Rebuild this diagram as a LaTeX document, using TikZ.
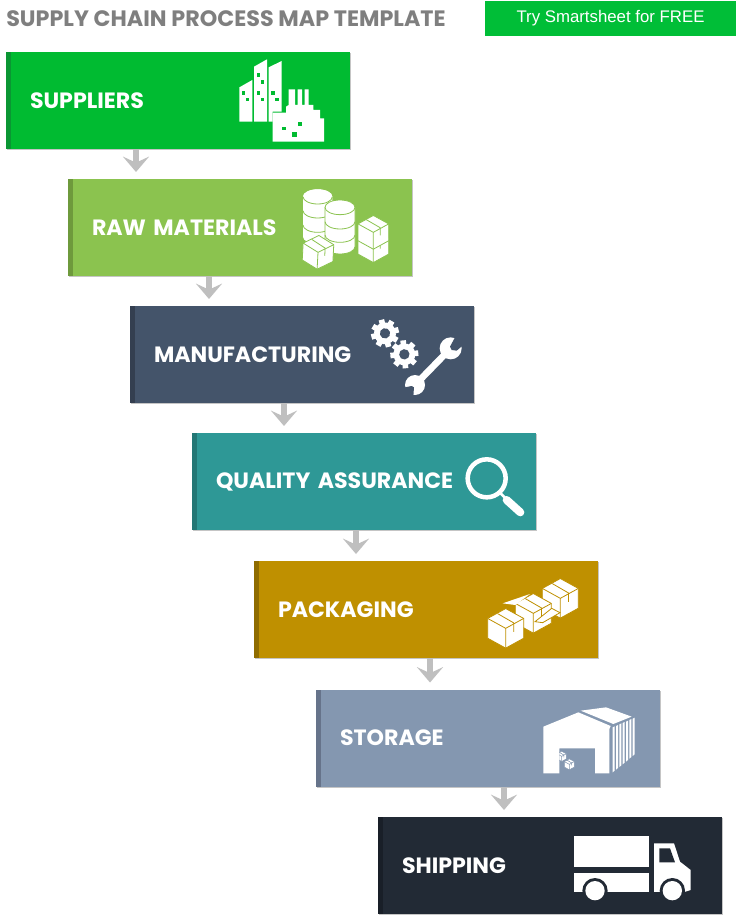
\documentclass[tikz,border=0pt]{standalone}
\usepackage{fontspec}
\setmainfont{Poppins}
\newfontfamily\buttonfont{Liberation Sans}
\usetikzlibrary{calc, positioning, arrows.meta, shadows}
\definecolor{titlegray}{HTML}{7F7F7F}
\definecolor{buttongreen}{HTML}{00BE37}
\definecolor{suppliersgreen}{HTML}{00BB31}
\definecolor{suppliersdark}{HTML}{0A9633}
\definecolor{rawgreen}{HTML}{8BC34F}
\definecolor{rawdark}{HTML}{6E9A3C}
\definecolor{manublue}{HTML}{44546A}
\definecolor{manudark}{HTML}{343F50}
\definecolor{qateal}{HTML}{2E9896}
\definecolor{qadark}{HTML}{237775}
\definecolor{packgold}{HTML}{BF9000}
\definecolor{packdark}{HTML}{8F6C00}
\definecolor{storeblue}{HTML}{8497B0}
\definecolor{storedark}{HTML}{66738A}
\definecolor{shipnavy}{HTML}{222A35}
\definecolor{shipdark}{HTML}{191F28}
\definecolor{arrowgray}{HTML}{BFBFBF}
\tikzset{
  procbox/.style={fill=#1, minimum width=258pt, minimum height=72.75pt, inner sep=0pt, outer sep=0pt,
    text width=222pt, align=left, text=white, font=\bfseries\fontsize{16.6}{19}\selectfont,
    drop shadow={shadow xshift=.7pt, shadow yshift=-.9pt, fill=black!50, opacity=.45}},
  nextbox/.style={below=22.5pt of #1, xshift=46.5pt},
  flowarrow/.style={draw=arrowgray, line width=4.6pt, shorten >=5.25pt,
    -{Stealth[length=11.5pt, width=19.5pt, inset=4.5pt]}},
  iconscope/.style 2 args={shift={(#1,#2)}, x=.25pt, y=-.25pt},
  crate/.pic={
    \fill[white] (0,-1.1) -- (1,-.55) -- (1,.55) -- (0,1.1) -- (-1,.55) -- (-1,-.55) -- cycle;
    \draw[iconedge] (0,-1.1) -- (1,-.55) -- (1,.55) -- (0,1.1) -- (-1,.55) -- (-1,-.55) -- cycle;
    \draw[iconedge] (-1,-.55) -- (0,0) -- (1,-.55) (0,0) -- (0,1.1);
    \draw[iconedge] (-.45,-.82) -- (.45,-.3) -- (.45,.2);
  },
  gear/.pic={
    \fill[white] (0,0) circle (.78);
    \foreach \a in {0,45,...,315}
      \fill[white, rotate=\a] (-.2,-1) rectangle (.2,-.6);
    \fill[manublue] (0,0) circle (.37);
  }
}
\begin{document}
\begin{tikzpicture}[x=.75pt, y=-.75pt]
  \path[use as bounding box, fill=white] (0,0) rectangle (737,923);

  % nodes %
  \node[anchor=west, inner sep=0pt, text=titlegray, font=\bfseries\fontsize{16.7}{19}\selectfont] (title) at (6,19) {SUPPLY CHAIN PROCESS MAP TEMPLATE};
  \node[fill=buttongreen, minimum width=188.25pt, minimum height=26.25pt, inner sep=0pt, text=white, font=\buttonfont\fontsize{12.6}{14}\selectfont] (button) at (610.5,18.5) {Try Smartsheet for FREE};
  \node[procbox=suppliersgreen] (suppliers) at (178,100.5) {SUPPLIERS};
  \node[procbox=rawgreen, nextbox=suppliers] (raw) {RAW MATERIALS};
  \node[procbox=manublue, nextbox=raw] (manu) {MANUFACTURING};
  \node[procbox=qateal, nextbox=manu] (qa) {QUALITY ASSURANCE};
  \node[procbox=packgold, nextbox=qa, yshift=-.75pt] (pack) {PACKAGING};
  \node[procbox=storeblue, nextbox=pack, yshift=-1.125pt] (store) {STORAGE};
  \node[procbox=shipnavy, nextbox=store, yshift=-.375pt] (ship) {SHIPPING};

  % side strips %
  \fill[suppliersdark] (suppliers.south west) rectangle ($(suppliers.north west)+(4.5,0)$);
  \fill[rawdark] (raw.south west) rectangle ($(raw.north west)+(4.5,0)$);
  \fill[manudark] (manu.south west) rectangle ($(manu.north west)+(4.5,0)$);
  \fill[qadark] (qa.south west) rectangle ($(qa.north west)+(4.5,0)$);
  \fill[packdark] (pack.south west) rectangle ($(pack.north west)+(4.5,0)$);
  \fill[storedark] (store.south west) rectangle ($(store.north west)+(4.5,0)$);
  \fill[shipdark] (ship.south west) rectangle ($(ship.north west)+(4.5,0)$);

  % edges %
  \draw[flowarrow] (suppliers.south -| 136,0) -- (raw.north -| 136,0);
  \draw[flowarrow] (raw.south -| 209,0) -- (manu.north -| 209,0);
  \draw[flowarrow] (manu.south -| 284,0) -- (qa.north -| 284,0);
  \draw[flowarrow] (qa.south -| 356,0) -- (pack.north -| 356,0);
  \draw[flowarrow] (pack.south -| 430,0) -- (store.north -| 430,0);
  \draw[flowarrow] (store.south -| 504,0) -- (ship.north -| 504,0);

  % suppliers icon %
  \begin{scope}[iconscope={0}{0}]
    \fill[white] (718,262) -- (757,240) -- (757,365) -- (718,365) -- cycle;
    \fill[white] (762,200) -- (801,178) -- (801,365) -- (762,365) -- cycle;
    \fill[white] (806,202) -- (845,183) -- (845,335) -- (818,335) -- (818,365) -- (806,365) -- cycle;
    \fill[white] (818,425) -- (972,425) -- (972,355) -- (960,355) -- (960,330) -- (940,330) -- (940,315) -- (926,315) -- (926,268) -- (914,268) -- (914,315) -- (906,315) -- (906,268) -- (893,268) -- (893,315) -- (885,315) -- (885,268) -- (866,268) -- (866,315) -- (858,320) -- (858,338) -- (818,338) -- cycle;
    \foreach \wx/\wy in {731/279, 743/299, 775/225, 787/246, 775/279, 787/299, 819/279, 831/299}
      \fill[suppliersgreen] (\wx-5,\wy-5) rectangle (\wx+5,\wy+5);
    \fill[suppliersgreen] (846,380) rectangle (857,391);
    \fill[suppliersgreen] (893,367) rectangle (905,379);
    \fill[suppliersgreen] (875,395) rectangle (891,411);
  \end{scope}

  % raw materials icon %
  \begin{scope}[iconscope={0}{0}, iconedge/.style={draw=rawgreen, line width=.6pt}]
    \fill[white] (909,590) arc (180:360:44 and 22) -- (997,710) arc (0:180:44 and 22) -- cycle;
    \fill[white] (953,590) ellipse (44 and 22);
    \draw[iconedge] (909,590) arc (180:0:44 and 22);
    \draw[iconedge] (909,632) arc (180:0:44 and 22);
    \draw[iconedge] (909,675) arc (180:0:44 and 22);
    \fill[white] (975,622) -- (1065,622) -- (1065,740) arc (0:180:45 and 22) -- cycle;
    \fill[white] (1020,622) ellipse (45 and 22);
    \draw[iconedge] (975,622) -- (975,740) arc (180:0:45 and 22) -- (1065,622);
    \draw[iconedge] (1020,622) ellipse (45 and 22);
    \draw[iconedge] (975,665) arc (180:0:45 and 22);
    \draw[iconedge] (975,705) arc (180:0:45 and 22);
    \pic[scale=46] at (1120,737) {crate};
    \pic[scale=46] at (1120,697) {crate};
    \pic[scale=46, rotate=-3] at (954,757) {crate};
  \end{scope}

  % manufacturing icon %
  \begin{scope}[iconscope={360}{300}]
    \pic[scale=42, rotate=15] at (75,100) {gear};
    \pic[scale=42, rotate=5] at (133,163) {gear};
    \draw[white, line width=5pt] (165,255) -- (272,145);
    \fill[white] (272,145) circle (33);
    \fill[white] (165,255) circle (30);
    \fill[manublue] (270,140) -- (285,112) -- (315,120) -- (310,135) -- (290,152) -- (275,150) -- cycle;
    \fill[manublue] (135,262) -- (155,258) -- (162,262) -- (160,288) -- (130,295) -- (125,270) -- cycle;
  \end{scope}

  % quality assurance icon %
  \begin{scope}[iconscope={360}{300}]
    \draw[white, line width=3.4pt] (380,535) circle (57);
    \draw[white, line width=2pt] (420,578) -- (440,598);
    \draw[white, line width=6pt, line cap=round] (440,600) -- (481,637);
  \end{scope}

  % packaging icon %
  \begin{scope}[iconscope={360}{300}, iconedge/.style={draw=packgold, line width=.6pt}]
    \pic[scale=54] at (601,895) {crate};
    \pic[scale=54] at (520,940) {crate};
    \fill[white] (428,910) -- (510,882) -- (466,915) -- cycle;
    \fill[white] (525,965) -- (575,925) -- (600,938) -- (548,968) -- cycle;
    \draw[iconedge] (525,965) -- (575,925) -- (600,938) -- (548,968) -- cycle;
    \pic[scale=54] at (437,985) {crate};
  \end{scope}

  % storage icon %
  \begin{scope}[iconscope={480}{680}, iconedge/.style={draw=storeblue, line width=.4pt}]
    \fill[white] (190,140) -- (295,97) -- (392,138) -- (388,147) -- (190,147) -- cycle;
    \fill[white] (302,92) -- (378,82) -- (455,110) -- (400,132) -- cycle;
    \fill[white] (190,147) -- (388,147) -- (388,280) -- (345,280) -- (345,205) -- (238,205) -- (238,280) -- (190,280) -- cycle;
    \foreach \sx/\st/\sb in {398/142/277, 408/138/269, 418/133/261, 428/129/253, 438/125/245, 448/120/236, 458/116/228}
      \fill[white] (\sx,\st) -- (\sx+6,\st-3) -- (\sx+6,\sb-5) -- (\sx,\sb) -- cycle;
    \begin{scope}
      \clip (238,205) rectangle (345,280);
      \pic[scale=14] at (245,229) {crate};
    \end{scope}
    \pic[scale=15] at (268,253) {crate};
  \end{scope}

  % shipping icon %
  \begin{scope}[iconscope={480}{680}]
    \fill[white] (283,467) rectangle (507,562);
    \fill[white] (283,578) rectangle (507,635);
    \fill[white] (522,490) -- (582,490) -- (600,545) -- (632,570) -- (632,630) -- (610,637) -- (522,637) -- cycle;
    \fill[shipnavy] (345,632) circle (38);
    \fill[shipnavy] (577,632) circle (38);
    \fill[shipnavy] (283,636) rectangle (632,670);
    \fill[white] (345,632) circle (29);
    \fill[white] (577,632) circle (29);
    \fill[shipnavy] (538,505) -- (570,505) -- (585,547) -- (538,547) -- cycle;
  \end{scope}
\end{tikzpicture}
\end{document}
